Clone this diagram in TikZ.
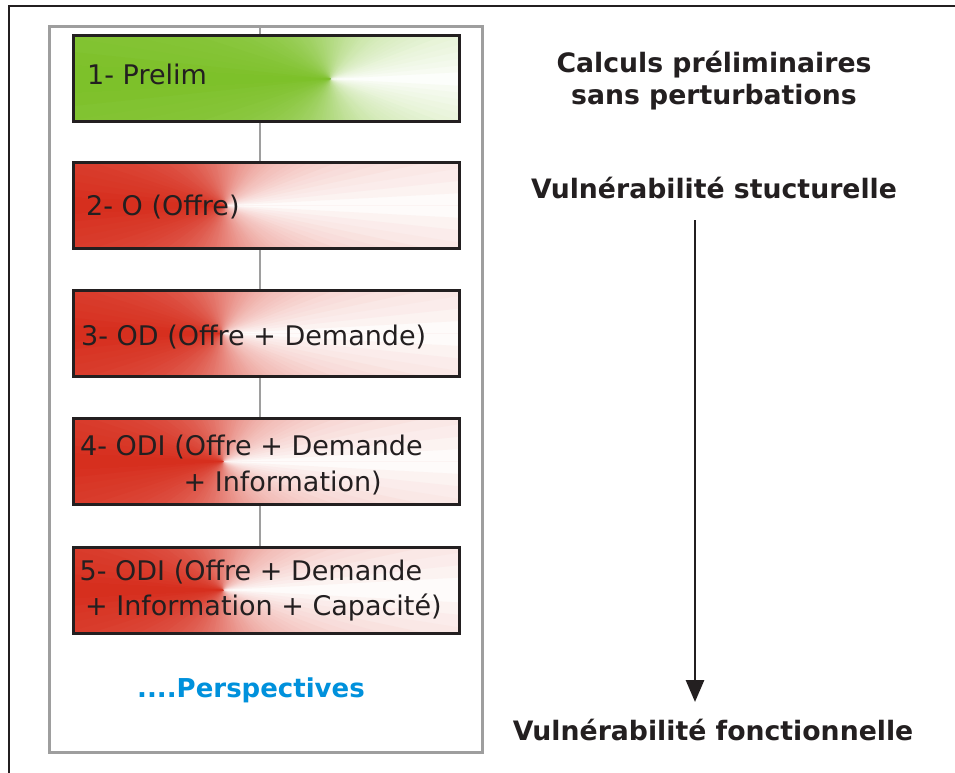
\documentclass[tikz,border=0pt]{standalone}
\usepackage{fontspec}
\setmainfont{DejaVu Sans}
\usetikzlibrary{arrows.meta}
\definecolor{fgreen}{RGB}{124,192,40}
\definecolor{fred}{RGB}{214,45,28}
\definecolor{pblue}{RGB}{0,145,220}
\definecolor{framegray}{RGB}{158,158,158}
\definecolor{ink}{RGB}{35,31,32}
% conical "fan" fill: centre x, centre y, colour, x1, y1, x2, y2
\newcommand\myfan[7]{%
  \begin{scope}
    \clip (#4,#5) rectangle (#6,#7);
    \fill[#3] (#4,#5) rectangle (#1,#7);
    \fill[#3!15!white] (#1,#5) rectangle (#6,#7);
    \foreach \a in {0,3,...,177}{%
      \pgfmathtruncatemacro\t{100*((\a+1.5)/180)^0.75}%
      \fill[#3!\t!white] (#1,#2) -- +(\a:700) -- +(\a+6:700) -- cycle;
      \fill[#3!\t!white] (#1,#2) -- +(-\a:700) -- +(-\a-6:700) -- cycle;
    }
  \end{scope}}
\begin{document}
\begin{tikzpicture}[x=1pt,y=-1pt,
  boxst/.style={draw=ink, line width=3pt, minimum width=386pt, minimum height=86pt, inner sep=0pt},
  lbl/.style={anchor=base west, inner sep=0pt, text=ink, font=\fontsize{27}{32}\selectfont},
  hd/.style={anchor=base, inner sep=0pt, text=ink, font=\bfseries\fontsize{26.7}{31}\selectfont},
  conn/.style={draw=framegray, line width=2.5pt},
  arr/.style={draw=ink, line width=2.8pt, -{Triangle[length=22pt,width=18pt]}}]
\useasboundingbox (0,0) rectangle (955,773);
\fill[white] (0,0) rectangle (955,773);
% outer frame (only left and top edges visible)
\draw[ink, line width=2.6pt] (9,773) -- (9,6) -- (955,6);
% grey frame
\draw[framegray, line width=3pt] (49,27) rectangle (482,752);
% fan fills
\myfan{330}{79}{fgreen}{73}{36}{459}{122}
\myfan{225}{205.5}{fred}{73}{162.5}{459}{248.5}
\myfan{222}{333.5}{fred}{73}{290.5}{459}{376.5}
\myfan{223}{461.5}{fred}{73}{418.5}{459}{504.5}
\myfan{223}{590}{fred}{73}{547}{459}{633}
% boxes
\node[boxst] (b1) at (266,79) {};
\node[boxst] (b2) at (266,205.5) {};
\node[boxst] (b3) at (266,333.5) {};
\node[boxst] (b4) at (266,461.5) {};
\node[boxst] (b5) at (266,590) {};
% spine connectors
\coordinate (spine) at (260,28.5);
\draw[conn] (spine) -- (b1.north -| spine);
\draw[conn] (b1.south -| spine) -- (b2.north -| spine);
\draw[conn] (b2.south -| spine) -- (b3.north -| spine);
\draw[conn] (b3.south -| spine) -- (b4.north -| spine);
\draw[conn] (b4.south -| spine) -- (b5.north -| spine);
% box labels
\node[lbl] (t1) at (87,85) {1- Prelim};
\node[lbl] (t2) at (86,215) {2- O (Offre)};
\node[lbl] (t3) at (81,345) {3- OD (Offre + Demande)};
\node[lbl] (t4a) at (80,455) {4- ODI (Offre + Demande};
\node[lbl] (t4b) at (183.5,491) {+ Information)};
\node[lbl] (t5a) at (79.5,580) {5- ODI (Offre + Demande};
\node[lbl] (t5b) at (85,615) {+ Information + Capacité)};
\node[hd, text=pblue, font=\bfseries\fontsize{26}{31}\selectfont] (persp) at (251,697) {....Perspectives};
% right column
\node[hd] (c1) at (714,73) {Calculs préliminaires};
\node[hd] (c2) at (714,105) {sans perturbations};
\node[hd] (vs) at (714,198) {Vulnérabilité stucturelle};
\node[hd] (vf) at (713,740) {Vulnérabilité fonctionnelle};
\coordinate (ar1) at (695,220);
\coordinate (ar2) at (695,702);
\draw[arr] (ar1) -- (ar2);
\end{tikzpicture}
\end{document}
